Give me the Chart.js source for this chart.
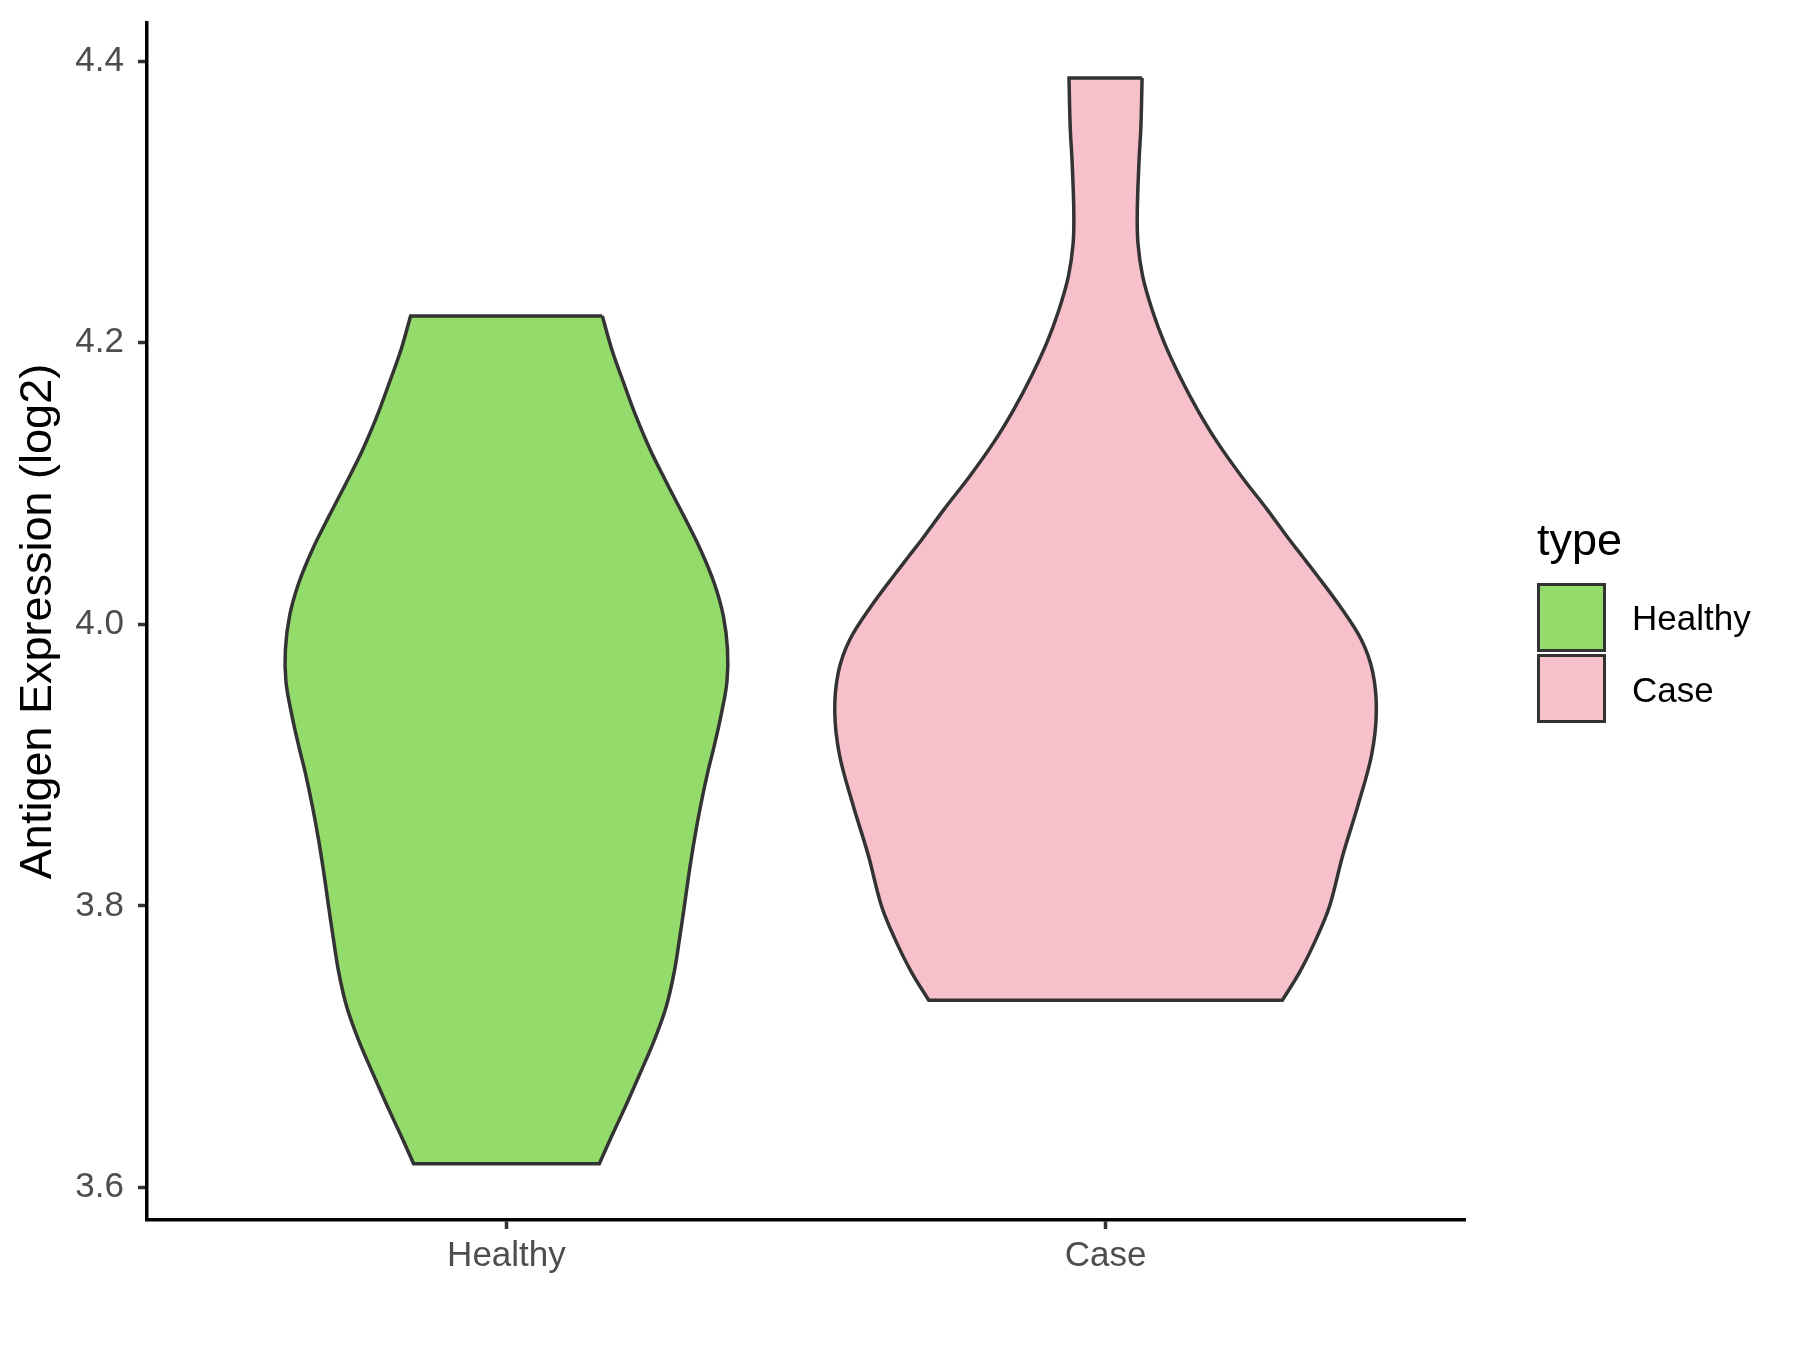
<!DOCTYPE html>
<html>
<head>
<meta charset="utf-8">
<script src="https://cdn.jsdelivr.net/npm/chart.js@4.4.1/dist/chart.umd.min.js"></script>
<style>
  body { margin: 0; background: #fff; font-family: "Liberation Sans", Arial, sans-serif; }
  #wrap { position: relative; width: 1800px; height: 1350px; }
  .legend-title { position: absolute; left: 1537px; top: 517px; font-size: 45px; line-height: 1; color: #000; }
  .key { position: absolute; left: 1537px; width: 69px; height: 69px; box-sizing: border-box; border: 3.5px solid #333; }
  .key-label { position: absolute; left: 1632px; font-size: 35px; line-height: 1; color: #000; }
</style>
</head>
<body>
<div id="wrap">
  <canvas id="violinChart" width="1800" height="1350"></canvas>
  <div class="legend-title">type</div>
  <div class="key" style="top:583px; background:#93DB6A;"></div>
  <div class="key-label" style="top:600px;">Healthy</div>
  <div class="key" style="top:654px; background:#F7C0CB;"></div>
  <div class="key-label" style="top:672px;">Case</div>
</div>
<script>
const categories = ['Healthy', 'Case'];
const yTicks = [3.6, 3.8, 4.0, 4.2, 4.4];

// density outline, top to bottom: value and half width (in category units)
const healthyY = [4.219, 4.195, 4.171, 4.148, 4.124, 4.100, 4.077, 4.053, 4.029, 4.006, 3.982, 3.959, 3.935, 3.914, 3.895, 3.871, 3.848, 3.824, 3.800, 3.777, 3.753, 3.729, 3.706, 3.682, 3.658, 3.635, 3.617];
const healthyHalfWidth = [0.160, 0.176, 0.196, 0.216, 0.240, 0.268, 0.296, 0.324, 0.347, 0.362, 0.369, 0.368, 0.358, 0.347, 0.336, 0.324, 0.314, 0.305, 0.297, 0.289, 0.280, 0.267, 0.248, 0.224, 0.199, 0.174, 0.155];

const caseY = [4.388, 4.353, 4.330, 4.294, 4.271, 4.247, 4.223, 4.200, 4.176, 4.152, 4.129, 4.105, 4.082, 4.060, 4.048, 4.037, 4.013, 3.989, 3.966, 3.938, 3.907, 3.871, 3.836, 3.800, 3.777, 3.753, 3.733];
const caseHalfWidth = [0.061, 0.059, 0.056, 0.053, 0.054, 0.062, 0.078, 0.098, 0.124, 0.154, 0.187, 0.227, 0.269, 0.307, 0.329, 0.349, 0.391, 0.427, 0.446, 0.452, 0.444, 0.421, 0.396, 0.374, 0.352, 0.324, 0.295];

const fillColors = ['#93DB6A', '#F7C0CB'];

// closed outline; corners are doubled so the curve stays sharp there
function violinOutline(center, ys, hw) {
    const n = ys.length;
    const right = ys.map((y, i) => ({ x: center + hw[i], y: y }));
    const left = ys.map((y, i) => ({ x: center - hw[i], y: y })).reverse();
    return [...right, right[n - 1], left[0], ...left, left[n - 1], right[0]];
}

const outlines = [
    violinOutline(1, healthyY, healthyHalfWidth),
    violinOutline(2, caseY, caseHalfWidth)
];

const ctx = document.getElementById('violinChart').getContext('2d');
new Chart(ctx, {
    type: 'line',
    data: {
        datasets: outlines.map((pts, i) => ({
            label: categories[i],
            data: pts,
            backgroundColor: fillColors[i],
            borderColor: '#333333',
            borderWidth: 3.5,
            borderJoinStyle: 'miter',
            fill: 'shape',
            tension: 0.35,
            pointRadius: 0
        }))
    },
    options: {
        responsive: false,
        animation: false,
        devicePixelRatio: 1,
        layout: { padding: { top: 23, right: 335, left: 0, bottom: 0 } },
        plugins: {
            legend: { display: false },
            tooltip: { enabled: false }
        },
        scales: {
            x: {
                type: 'linear',
                min: 0.4,
                max: 2.6,
                afterBuildTicks: s => { s.ticks = categories.map((c, i) => ({ value: i + 1 })); },
                afterFit: s => { s.height = 130; s.paddingLeft = 0; s.paddingRight = 0; },
                ticks: {
                    callback: v => categories[v - 1],
                    font: { family: 'Liberation Sans', size: 35 },
                    color: '#4d4d4d',
                    padding: 6
                },
                grid: { drawOnChartArea: false, tickLength: 9, tickColor: '#333', tickWidth: 3.5 },
                border: { color: '#000', width: 3.5 }
            },
            y: {
                min: 3.577,
                max: 4.427,
                afterBuildTicks: s => { s.ticks = yTicks.map(v => ({ value: v })); },
                afterFit: s => { s.width = 147; s.paddingTop = 0; s.paddingBottom = 0; },
                ticks: {
                    callback: v => v.toFixed(1),
                    font: { family: 'Liberation Sans', size: 35 },
                    color: '#4d4d4d',
                    padding: 14
                },
                grid: { drawOnChartArea: false, tickLength: 9, tickColor: '#333', tickWidth: 3.5 },
                border: { color: '#000', width: 3.5 },
                title: {
                    display: true,
                    text: 'Antigen Expression (log2)',
                    font: { family: 'Liberation Sans', size: 45 },
                    color: '#000',
                    padding: { top: 12, bottom: 0 }
                }
            }
        }
    }
});
</script>
</body>
</html>
